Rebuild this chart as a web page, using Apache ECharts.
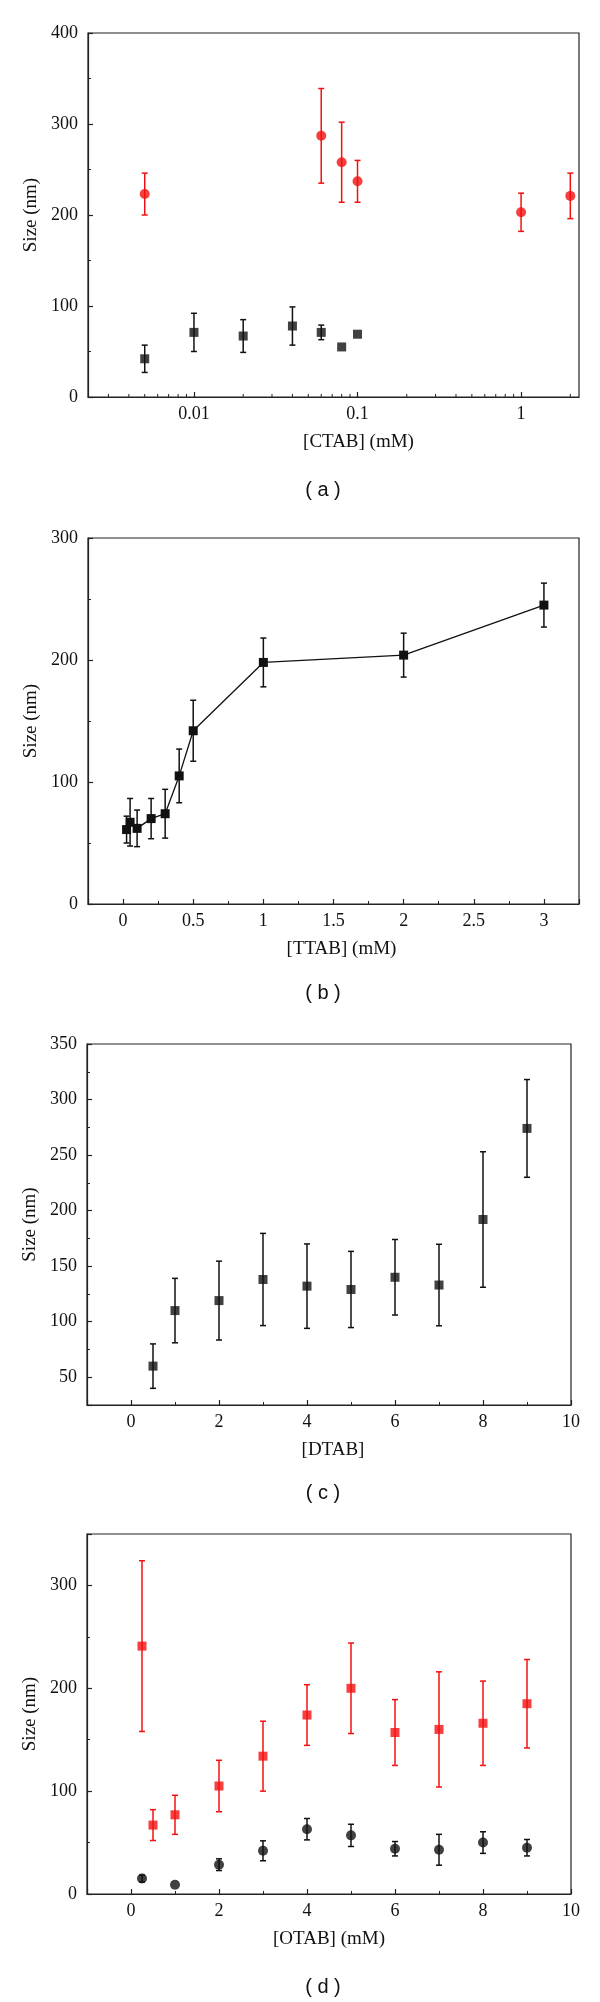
<!DOCTYPE html>
<html>
<head>
<meta charset="utf-8">
<script src="https://cdn.jsdelivr.net/npm/echarts@6/dist/echarts.min.js"></script>
<style>
  body { margin: 0; background: #fff; }
  #main { width: 600px; height: 2002px; }
</style>
</head>
<body>
<div id="main"></div>
<script>
// (a) CTAB
const ctabBlackX = [0.005, 0.01, 0.02, 0.04, 0.06, 0.08, 0.1];
const ctabBlackSize = [42, 71, 67, 78, 71, 55, 69];
const ctabBlackErr = [15, 21, 18, 21, 8, 0, 0];
const ctabRedX = [0.005, 0.06, 0.08, 0.1, 1, 2];
const ctabRedSize = [223, 287, 258, 237, 203, 221];
const ctabRedErr = [23, 52, 44, 23, 21, 25];
const ctabMinorTicks = [0.003, 0.004, 0.005, 0.006, 0.007, 0.008, 0.009,
  0.02, 0.03, 0.04, 0.05, 0.06, 0.07, 0.08, 0.09,
  0.2, 0.3, 0.4, 0.5, 0.6, 0.7, 0.8, 0.9, 2];

// (b) TTAB
const ttabX = [0.025, 0.05, 0.1, 0.2, 0.3, 0.4, 0.5, 1, 2, 3];
const ttabSize = [61, 67, 62, 70, 74, 105, 142, 198, 204, 245];
const ttabErr = [11, 19.5, 15, 16.5, 20, 22, 25, 20, 18, 18];

// (c) DTAB
const dtabX = [0.5, 1, 2, 3, 4, 5, 6, 7, 8, 9];
const dtabSize = [60, 110, 119, 138, 132, 129, 140, 133, 192, 274];
const dtabErr = [20, 29, 35.5, 41.5, 38, 34.3, 34, 36.7, 61, 44];

// (d) OTAB
const otabRedX = [0.25, 0.5, 1, 2, 3, 4, 5, 6, 7, 8, 9];
const otabRedSize = [241, 67, 77, 105, 134, 174, 200, 157, 160, 166, 185];
const otabRedErr = [83, 15, 19, 25, 34, 29.5, 44, 32, 56, 41, 43];
const otabBlackX = [0.25, 1, 2, 3, 4, 5, 6, 7, 8, 9];
const otabBlackSize = [15, 9, 28.5, 42, 63, 57, 44, 43, 50, 45];
const otabBlackErr = [3.4, 0, 5.7, 9.7, 10.4, 10.8, 7, 15, 10.5, 8];

const captions = ["( a )", "( b )", "( c )", "( d )"];

const BLACK = "#111";
const RED = "#f41010";
const SERIF = "Liberation Serif";

const zip = (xs, ys, es) => xs.map((x, i) => (es ? [x, ys[i], es[i]] : [x, ys[i]]));

const errorBars = (idx, data, color) => ({
  type: "custom",
  xAxisIndex: idx,
  yAxisIndex: idx,
  z: 2,
  silent: true,
  encode: { x: 0, y: 1 },
  data: data,
  renderItem: (params, api) => {
    const x = api.value(0);
    const y = api.value(1);
    const e = api.value(2);
    if (!e) return { type: "group", children: [] };
    const hi = api.coord([x, y + e]);
    const lo = api.coord([x, y - e]);
    const w = 3;
    const style = { stroke: color, lineWidth: 1.5 };
    return {
      type: "group",
      children: [
        { type: "line", shape: { x1: hi[0], y1: hi[1], x2: lo[0], y2: lo[1] }, style },
        { type: "line", shape: { x1: hi[0] - w, y1: hi[1], x2: hi[0] + w, y2: hi[1] }, style },
        { type: "line", shape: { x1: lo[0] - w, y1: lo[1], x2: lo[0] + w, y2: lo[1] }, style },
      ],
    };
  },
});

const points = (idx, data, symbol, color, size) => ({
  type: "scatter",
  xAxisIndex: idx,
  yAxisIndex: idx,
  z: 3,
  symbol: symbol,
  symbolSize: size,
  itemStyle: { color: color },
  data: data,
});

const baseAxis = (idx, extra) => Object.assign({
  gridIndex: idx,
  type: "value",
  splitLine: { show: false },
  axisLine: { show: true, onZero: false, lineStyle: { color: "#222", width: 1.2 } },
  axisTick: { show: true, inside: true, length: 5, lineStyle: { color: "#222", width: 1.2 } },
  minorTick: { show: true, splitNumber: 2, length: 3, lineStyle: { color: "#222", width: 1 } },
  axisLabel: { color: BLACK, fontFamily: SERIF, fontSize: 18 },
  nameTextStyle: { color: BLACK, fontFamily: SERIF, fontSize: 19 },
}, extra);

const xAxisOf = (idx, name, extra, shift) => baseAxis(idx, Object.assign({
  name: name,
  nameLocation: "middle",
  nameGap: 36,
  nameTextStyle: { color: BLACK, fontFamily: SERIF, fontSize: 19, padding: [0, 0, 0, shift || 0] },
  axisLabel: { color: BLACK, fontFamily: SERIF, fontSize: 18, margin: 8 },
}, extra));

const yAxisOf = (idx, extra) => baseAxis(idx, Object.assign({
  name: "Size (nm)",
  nameLocation: "middle",
  nameGap: 46,
  axisLabel: { color: BLACK, fontFamily: SERIF, fontSize: 18, margin: 10 },
}, extra));

const chart = echarts.init(document.getElementById("main"));

const gridStyle = { show: true, borderColor: "#222", borderWidth: 1.2, backgroundColor: "transparent" };

const option = {
  animation: false,
  backgroundColor: "#fff",
  grid: [
    Object.assign({ left: 88, right: 21, top: 33, height: 364 }, gridStyle),
    Object.assign({ left: 88, right: 21, top: 538, height: 366 }, gridStyle),
    Object.assign({ left: 87, right: 29, top: 1044, height: 361 }, gridStyle),
    Object.assign({ left: 87, right: 29, top: 1534, height: 360 }, gridStyle),
  ],
  xAxis: [
    xAxisOf(0, "[CTAB] (mM)", {
      type: "log",
      logBase: 10,
      min: 0.00225,
      max: 2.26,
      minorTick: { show: false },
      axisLabel: {
        color: BLACK, fontFamily: SERIF, fontSize: 18, margin: 8,
        showMinLabel: false, showMaxLabel: false,
      },
    }, 50),
    xAxisOf(1, "[TTAB] (mM)", {
      min: -0.25,
      max: 3.25,
      splitNumber: 7,
      axisLabel: {
        color: BLACK, fontFamily: SERIF, fontSize: 18, margin: 8,
        showMinLabel: false, showMaxLabel: false,
      },
    }, 16),
    xAxisOf(2, "[DTAB]", {
      min: -1,
      max: 10,
      splitNumber: 5,
      axisLabel: { color: BLACK, fontFamily: SERIF, fontSize: 18, margin: 8, showMinLabel: false },
    }, 8),
    xAxisOf(3, "[OTAB] (mM)", {
      min: -1,
      max: 10,
      splitNumber: 5,
      axisLabel: { color: BLACK, fontFamily: SERIF, fontSize: 18, margin: 8, showMinLabel: false },
    }, 0),
  ],
  yAxis: [
    yAxisOf(0, { min: 0, max: 400, interval: 100 }),
    yAxisOf(1, { min: 0, max: 300, interval: 100 }),
    yAxisOf(2, {
      min: 25,
      max: 350,
      splitNumber: 6,
      axisLabel: { color: BLACK, fontFamily: SERIF, fontSize: 18, margin: 10, showMinLabel: false },
    }),
    yAxisOf(3, {
      min: 0,
      max: 350,
      splitNumber: 4,
      axisLabel: { color: BLACK, fontFamily: SERIF, fontSize: 18, margin: 10, showMaxLabel: false },
    }),
  ],
  graphic: captions.map((text, i) => ({
    type: "text",
    x: 323,
    y: [490, 993, 1493, 1987][i],
    style: {
      text: text,
      fill: BLACK,
      font: "20px 'Liberation Sans'",
      textAlign: "center",
      textVerticalAlign: "middle",
    },
  })),
  series: [
    // log-axis minor ticks for panel (a)
    {
      type: "custom",
      xAxisIndex: 0,
      yAxisIndex: 0,
      silent: true,
      clip: false,
      encode: { x: 0, y: 1 },
      data: ctabMinorTicks.map((v) => [v, 0]),
      renderItem: (params, api) => {
        const p = api.coord([api.value(0), api.value(1)]);
        return {
          type: "line",
          shape: { x1: p[0], y1: p[1], x2: p[0], y2: p[1] - 3 },
          style: { stroke: "#222", lineWidth: 1 },
        };
      },
    },
    errorBars(0, zip(ctabBlackX, ctabBlackSize, ctabBlackErr), BLACK),
    errorBars(0, zip(ctabRedX, ctabRedSize, ctabRedErr), RED),
    points(0, zip(ctabBlackX, ctabBlackSize), "rect", BLACK, 9),
    points(0, zip(ctabRedX, ctabRedSize), "circle", RED, 10),

    errorBars(1, zip(ttabX, ttabSize, ttabErr), BLACK),
    {
      type: "line",
      xAxisIndex: 1,
      yAxisIndex: 1,
      z: 3,
      symbol: "rect",
      symbolSize: 9,
      itemStyle: { color: BLACK },
      lineStyle: { color: BLACK, width: 1.3 },
      data: zip(ttabX, ttabSize),
    },

    errorBars(2, zip(dtabX, dtabSize, dtabErr), BLACK),
    points(2, zip(dtabX, dtabSize), "rect", BLACK, 9),

    errorBars(3, zip(otabRedX, otabRedSize, otabRedErr), RED),
    errorBars(3, zip(otabBlackX, otabBlackSize, otabBlackErr), BLACK),
    points(3, zip(otabRedX, otabRedSize), "rect", RED, 9),
    points(3, zip(otabBlackX, otabBlackSize), "circle", BLACK, 10),
  ],
};

chart.setOption(option);
</script>
</body>
</html>
